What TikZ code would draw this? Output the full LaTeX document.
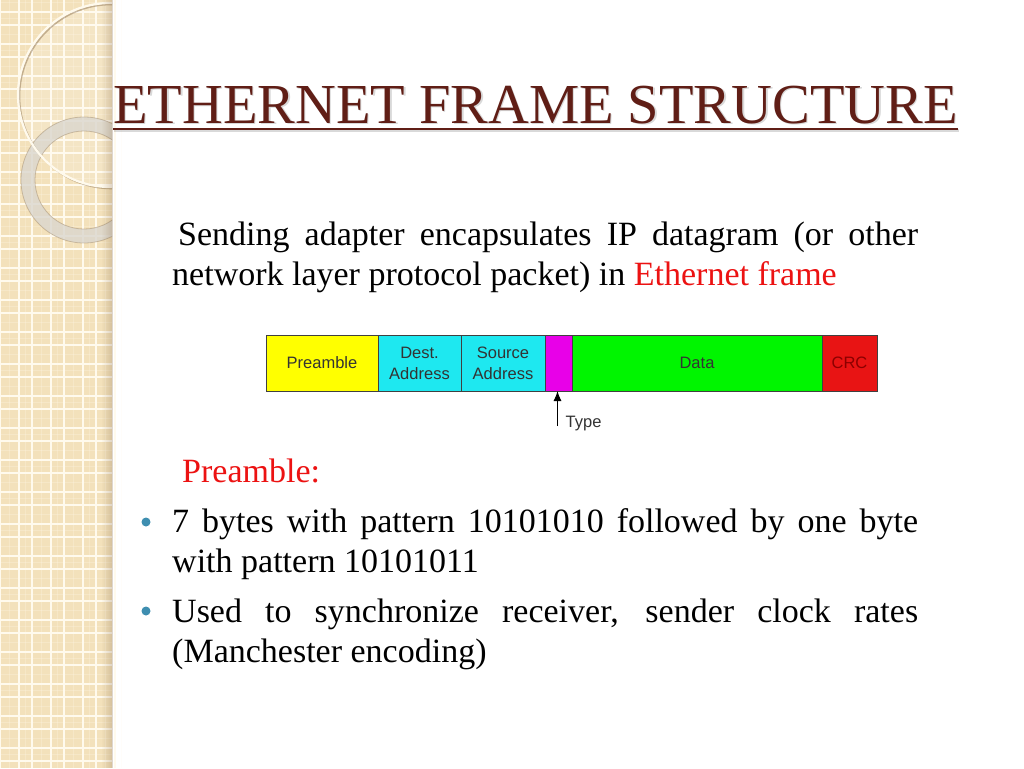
\documentclass[tikz,border=0pt]{standalone}
\usepackage{fontspec}
\setmainfont{Liberation Serif}
\newfontfamily\framefont{Liberation Sans}
\usetikzlibrary{positioning}
\usetikzlibrary{arrows.meta}
\usetikzlibrary{calc}

\tolerance=10000
\hbadness=10000

\definecolor{strip}{RGB}{243,225,187}
\definecolor{gridline}{RGB}{255,250,237}
\definecolor{stripshade}{RGB}{120,90,55}
\definecolor{ringgrey}{RGB}{218,214,206}
\definecolor{titlered}{RGB}{96,30,22}
\definecolor{textred}{RGB}{236,18,18}
\definecolor{dotblue}{RGB}{62,142,176}
\definecolor{fieldyellow}{RGB}{255,255,0}
\definecolor{fieldcyan}{RGB}{30,232,240}
\definecolor{fieldmagenta}{RGB}{232,0,232}
\definecolor{fieldgreen}{RGB}{0,245,0}
\definecolor{fieldred}{RGB}{232,20,20}

\tikzset{
  field/.style={draw=black!75, line width=1pt, minimum height=56pt, inner sep=0pt,
    outer sep=0pt, align=center, text=black!80, font=\framefont\fontsize{16.5}{21}\selectfont},
  body/.style={anchor=base west, inner sep=0pt, text width=746pt, align=justify,
    font=\fontsize{34}{40}\selectfont},
  dot/.style={circle, fill=dotblue, inner sep=0pt, minimum size=9pt}
}

\begin{document}
\begin{tikzpicture}[x=1pt, y=-1pt]
\useasboundingbox (0,0) rectangle (1024,768);
\fill[white] (0,0) rectangle (1024,768);

\fill[strip] (0,0) rectangle (112,768);
\foreach \x in {0,32,...,96} {
  \draw[gridline, line width=1.8pt] (\x,0) -- (\x,768);
  \draw[gridline, line width=1.8pt] (\x+19,0) -- (\x+19,768);
  \draw[gridline, line width=.8pt, opacity=.25] (\x+9.5,0) -- (\x+9.5,768);
  \draw[gridline, line width=.8pt, opacity=.25] (\x+25.5,0) -- (\x+25.5,768);
}
\foreach \y in {-20,12,...,748} {
  \draw[gridline, line width=1.8pt] (0,\y) -- (112,\y);
  \draw[gridline, line width=1.8pt] (0,\y+13) -- (112,\y+13);
  \draw[gridline, line width=.8pt, opacity=.25] (0,\y+6.5) -- (112,\y+6.5);
  \draw[gridline, line width=.8pt, opacity=.25] (0,\y+22.5) -- (112,\y+22.5);
}

\begin{scope}
\clip (0,0) rectangle (112,768);
\fill[white, opacity=.15] (110,95) circle[radius=92pt];
\draw[ringgrey, opacity=.8, line width=14pt] (84,180) circle[radius=56pt];
\draw[stripshade, opacity=.3, line width=.8pt] (84,180) circle[radius=63pt];
\draw[stripshade, opacity=.3, line width=.8pt] (84,180) circle[radius=49pt];
\draw[stripshade, opacity=.4, line width=1.6pt] (111.5,96.5) circle[radius=92pt];
\draw[gridline, line width=2.2pt] (110,95) circle[radius=92pt];
\end{scope}
\foreach \i [evaluate=\i as \op using 0.022*\i] in {0,...,11}
  \fill[stripshade, opacity=\op] (101+\i,0) rectangle (102+\i,768);

\node[anchor=base west, inner sep=0pt, text=black, opacity=.15,
  font=\fontsize{56.5}{60}\selectfont] (titleshadow) at (114.5,124.5) {ETHERNET FRAME STRUCTURE};
\node[anchor=base west, inner sep=0pt, text=titlered,
  font=\fontsize{56.5}{60}\selectfont] (title) at (113,123) {ETHERNET FRAME STRUCTURE};
\draw[black, opacity=.15, line width=2.6pt] ($(title.base west)+(1,7.5)$) -- ($(title.base east)+(1,7.5)$);
\draw[titlered, line width=2.6pt] ($(title.base west)+(0,6)$) -- ($(title.base east)+(0,6)$);

\node[body] (intro) at (172,245) {\hspace*{6pt}Sending adapter encapsulates IP datagram (or other
  network layer protocol packet) in \textcolor{textred}{Ethernet frame}};

\node[field, fill=fieldyellow, minimum width=112pt] (pre) at (322,363) {Preamble};
\node[field, fill=fieldcyan, minimum width=83pt, right=0pt of pre] (dest) {Dest.\\Address};
\node[field, fill=fieldcyan, minimum width=84pt, right=0pt of dest] (src) {Source\\Address};
\node[field, fill=fieldmagenta, minimum width=27pt, right=0pt of src] (type) {};
\node[field, fill=fieldgreen, minimum width=250pt, right=0pt of type] (data) {Data};
\node[field, fill=fieldred, minimum width=55pt, right=0pt of data, text=red!55!black] (crc) {CRC};

\coordinate (typetail) at ($(type.south)+(-1,35)$);
\draw[-{Latex[length=10pt,width=8pt]}, line width=1pt] (typetail) -- (type.south -| typetail);
\node[anchor=base west, inner sep=0pt, text=black!80, font=\framefont\fontsize{16.5}{21}\selectfont]
  (typelbl) at ($(typetail)+(8,1)$) {Type};

\node[body, text=textred] (prehead) at (182,482) {Preamble:};
\node[dot] (dota) at (146,522) {};
\node[body] (bytes) at (172,532) {7 bytes with pattern 10101010 followed by one byte
  with pattern 10101011};
\node[dot] (dotb) at (146,611) {};
\node[body] (sync) at (172,622) {Used to synchronize receiver, sender clock rates
  (Manchester encoding)};

\end{tikzpicture}
\end{document}
